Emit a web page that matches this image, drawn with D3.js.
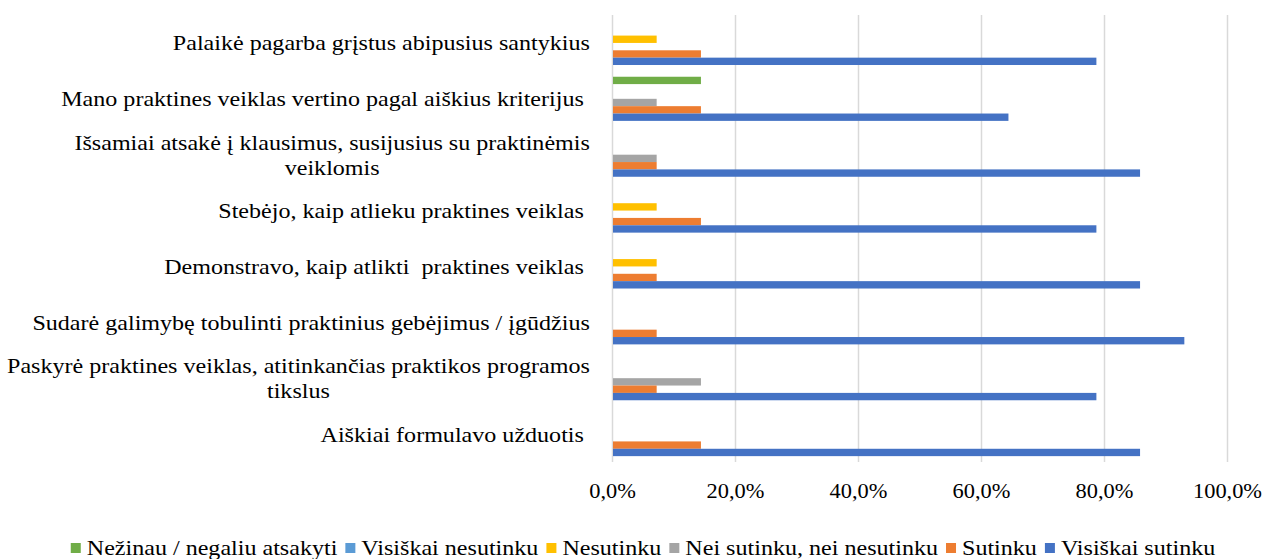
<!DOCTYPE html>
<html>
<head>
<meta charset="utf-8">
<script src="https://cdn.jsdelivr.net/npm/d3@7"></script>
<style>
  body { margin: 0; background: #fff; }
  text { white-space: pre; }
</style>
</head>
<body>
<svg width="1264" height="559"></svg>
<script>
// categories, top to bottom (each label split into its lines)
var categories = [
  ["Palaikė pagarba grįstus abipusius santykius"],
  ["Mano praktines veiklas vertino pagal aiškius kriterijus "],
  ["Išsamiai atsakė į klausimus, susijusius su praktinėmis", "veiklomis"],
  ["Stebėjo, kaip atlieku praktines veiklas "],
  ["Demonstravo, kaip atlikti  praktines veiklas "],
  ["Sudarė galimybę tobulinti praktinius gebėjimus / įgūdžius"],
  ["Paskyrė praktines veiklas, atitinkančias praktikos programos", "tikslus"],
  ["Aiškiai formulavo užduotis "]
];

var seriesNames = ["Nežinau / negaliu atsakyti", "Visiškai nesutinku", "Nesutinku",
  "Nei sutinku, nei nesutinku", "Sutinku", "Visiškai sutinku"];
var seriesColors = ["#70AD47", "#5B9BD5", "#FFC000", "#A5A5A5", "#ED7D31", "#4472C4"];

// values in %, same order as categories
var nezinau        = [0, 14.3, 0, 0, 0, 0, 0, 0];
var visiskaiNesut  = [0, 0, 0, 0, 0, 0, 0, 0];
var nesutinku      = [7.1, 0, 0, 7.1, 7.1, 0, 0, 0];
var neiSutinku     = [0, 7.1, 7.1, 0, 0, 0, 14.3, 0];
var sutinku        = [14.3, 14.3, 7.1, 14.3, 7.1, 7.1, 7.1, 14.3];
var visiskaiSut    = [78.6, 64.3, 85.7, 78.6, 85.7, 92.9, 78.6, 85.7];

var seriesValues = [nezinau, visiskaiNesut, nesutinku, neiSutinku, sutinku, visiskaiSut];
var xTicks = [0, 20, 40, 60, 80, 100];

var svg = d3.select("svg");
var font = "Liberation Serif, Times New Roman, serif";
var sx = 1.12; // the text in the picture is a bit wide

var x = d3.scaleLinear().domain([0, 100]).range([612, 1227]);
var y = d3.scaleBand()
    .domain(d3.range(categories.length))
    .range([15, 462])
    .paddingInner(0.21)
    .paddingOuter(0.105);
var ySub = d3.scaleBand()
    .domain(d3.range(seriesNames.length))
    .range([0, y.bandwidth()]);

// grid + tick labels
var axis = svg.append("g")
    .attr("transform", "translate(0,462)")
    .call(d3.axisBottom(x)
        .tickValues(xTicks)
        .tickSize(-(462 - 15))
        .tickPadding(22)
        .tickFormat(function(d) { return d3.format(".1f")(d).replace(".", ",") + "%"; }));
axis.select(".domain").remove();
axis.selectAll(".tick line").attr("stroke", "#d9d9d9").attr("stroke-width", 1.5);
axis.selectAll(".tick text")
    .attr("fill", "#000")
    .attr("transform", "scale(" + sx + ",1)")
    .style("font-family", font)
    .style("font-size", "20px");

// bars
categories.forEach(function(c, ci) {
  var g = svg.append("g").attr("transform", "translate(0," + y(ci) + ")");
  seriesValues.forEach(function(vals, si) {
    if (!vals[ci]) return;
    g.append("rect")
      .attr("x", x(0) + 1)
      .attr("y", ySub(si))
      .attr("width", x(vals[ci]) - x(0))
      .attr("height", ySub.bandwidth())
      .attr("fill", seriesColors[si]);
  });
});

// category labels: lines centred on each other, block right-aligned
var labelRight = 590, lineH = 25;
categories.forEach(function(lines, ci) {
  var groups = lines.map(function(l) {
    var g = svg.append("g");
    g.append("text")
      .attr("font-family", font)
      .attr("font-size", 21.5)
      .attr("fill", "#000")
      .attr("text-anchor", "middle")
      .attr("dy", "0.35em")
      .text(l);
    return g;
  });
  var maxW = sx * d3.max(groups, function(g) { return g.select("text").node().getComputedTextLength(); });
  var cy = y(ci) + y.bandwidth() / 2;
  groups.forEach(function(g, i) {
    var ly = cy + (i - (lines.length - 1) / 2) * lineH;
    g.attr("transform", "translate(" + (labelRight - maxW / 2) + "," + ly + ") scale(" + sx + ",1)");
  });
});

// legend
var legend = svg.append("g");
var lx = 0, sq = 10;
seriesNames.forEach(function(name, i) {
  var item = legend.append("g").attr("transform", "translate(" + lx + ",0)");
  item.append("rect")
    .attr("x", 0).attr("y", -sq / 2 + 1)
    .attr("width", sq).attr("height", sq)
    .attr("fill", seriesColors[i]);
  var t = item.append("text")
    .attr("transform", "translate(" + (sq + 6) + ",0) scale(" + sx + ",1)")
    .attr("dy", "0.35em")
    .attr("font-family", font)
    .attr("font-size", 21.5)
    .attr("fill", "#000")
    .text(name);
  lx += sq + 6 + sx * t.node().getComputedTextLength() + 8;
});
legend.attr("transform", "translate(" + (643 - (lx - 8) / 2) + ",547)");
</script>
</body>
</html>
